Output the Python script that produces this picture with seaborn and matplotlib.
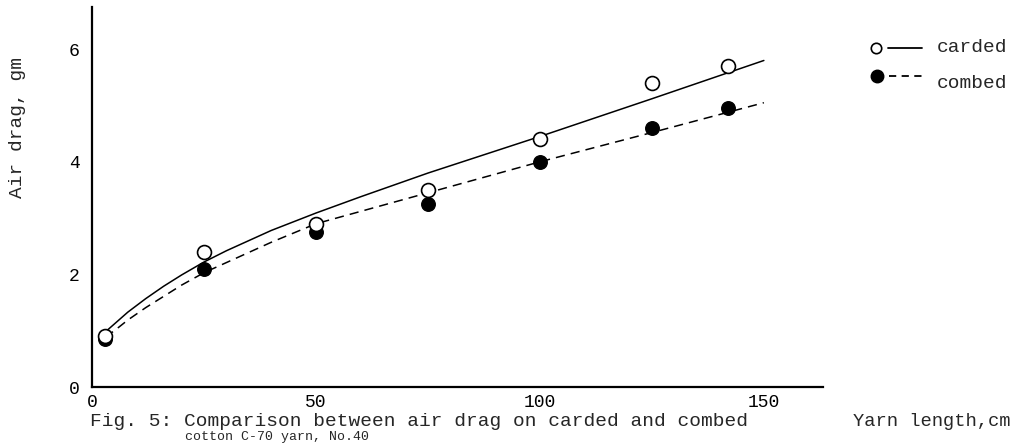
import matplotlib
matplotlib.use("Agg")
import matplotlib.pyplot as plt
import seaborn as sns
import pandas as pd
from matplotlib.lines import Line2D

sns.set_style("white")
plt.rcParams['font.family'] = ['Liberation Mono', 'DejaVu Sans Mono']

# measured points
length_pts = [3, 25, 50, 75, 100, 125, 142]
carded_pts = [0.9, 2.4, 2.9, 3.5, 4.4, 5.4, 5.7]
combed_pts = [0.85, 2.1, 2.75, 3.25, 4.0, 4.6, 4.95]

# fitted curves
curve_x = [3, 5, 8, 12, 16, 20, 25, 30, 40, 50, 60, 75, 100, 125, 150]
carded_curve = [0.98, 1.12, 1.33, 1.57, 1.79, 1.99, 2.22, 2.42, 2.78, 3.09, 3.38, 3.8, 4.45, 5.12, 5.8]
combed_curve = [0.89, 1.0, 1.19, 1.41, 1.61, 1.81, 2.03, 2.21, 2.57, 2.9, 3.12, 3.45, 4.0, 4.52, 5.05]

x_ticks = [0, 50, 100, 150]
y_ticks = [0, 2, 4, 6]

fig = plt.figure(figsize=(10.12, 4.43), dpi=100)
ax = fig.add_axes([92/1012, 56/443, (823-92)/1012, 380/443])

pts = pd.DataFrame({"x": length_pts, "carded": carded_pts, "combed": combed_pts})
crv = pd.DataFrame({"x": curve_x, "carded": carded_curve, "combed": combed_curve})

sns.lineplot(data=crv, x="x", y="carded", ax=ax, color="black", lw=1.1)
sns.lineplot(data=crv, x="x", y="combed", ax=ax, color="black", lw=1.1,
             linestyle=(0, (6, 4)))
sns.scatterplot(data=pts, x="x", y="carded", ax=ax, s=100, marker="o",
                facecolor="white", edgecolor="black", linewidth=1.2, zorder=5)
sns.scatterplot(data=pts, x="x", y="combed", ax=ax, s=95, marker="o",
                color="black", edgecolor="black", linewidth=1.0, zorder=4)

ax.set_xlim(0, 163.2)
ax.set_ylim(0, 6.75)
ax.set_xticks(x_ticks)
ax.set_yticks(y_ticks)
ax.set_xticklabels([str(t) for t in x_ticks], fontsize=13)
ax.set_yticklabels([str(t) for t in y_ticks], fontsize=13)
ax.tick_params(axis="y", direction="in", length=9, width=1.2, pad=9, colors="black")
ax.tick_params(axis="x", direction="in", length=5, width=1.2, pad=5, colors="black")
for s in ["top", "right"]:
    ax.spines[s].set_visible(False)
for s in ["left", "bottom"]:
    ax.spines[s].set_color("black")
    ax.spines[s].set_linewidth(1.6)
ax.set_xlabel("")
ax.set_ylabel("")

fig.text(18/1012, 1 - 128/443, "Air drag, gm", rotation=90, fontsize=14,
         ha="center", va="center")
fig.text(90/1012, 1 - 421/443, "Fig. 5: Comparison between air drag on carded and combed",
         fontsize=14, ha="left", va="center")
fig.text(185/1012, 1 - 431/443, "cotton C-70 yarn, No.40",
         fontsize=9.5, ha="left", va="top")
fig.text(853/1012, 1 - 421/443, "Yarn length,cm", fontsize=13.5, ha="left", va="center")

# legend drawn by hand
fig.add_artist(Line2D([888/1012, 922/1012], [1 - 48/443, 1 - 48/443], color="black", lw=1.3))
fig.add_artist(Line2D([876/1012], [1 - 48/443], marker="o", markersize=7.5,
                      markerfacecolor="white", markeredgecolor="black", mew=1.2))
fig.add_artist(Line2D([889/1012, 922/1012], [1 - 76/443, 1 - 76/443], color="black", lw=1.3,
                      linestyle=(0, (4, 3))))
fig.add_artist(Line2D([877/1012], [1 - 76/443], marker="o", markersize=9,
                      markerfacecolor="black", markeredgecolor="black"))
fig.text(937/1012, 1 - 48/443, "carded", fontsize=14, ha="left", va="center")
fig.text(937/1012, 1 - 83/443, "combed", fontsize=14, ha="left", va="center")

fig.savefig("out.png", dpi=100)
